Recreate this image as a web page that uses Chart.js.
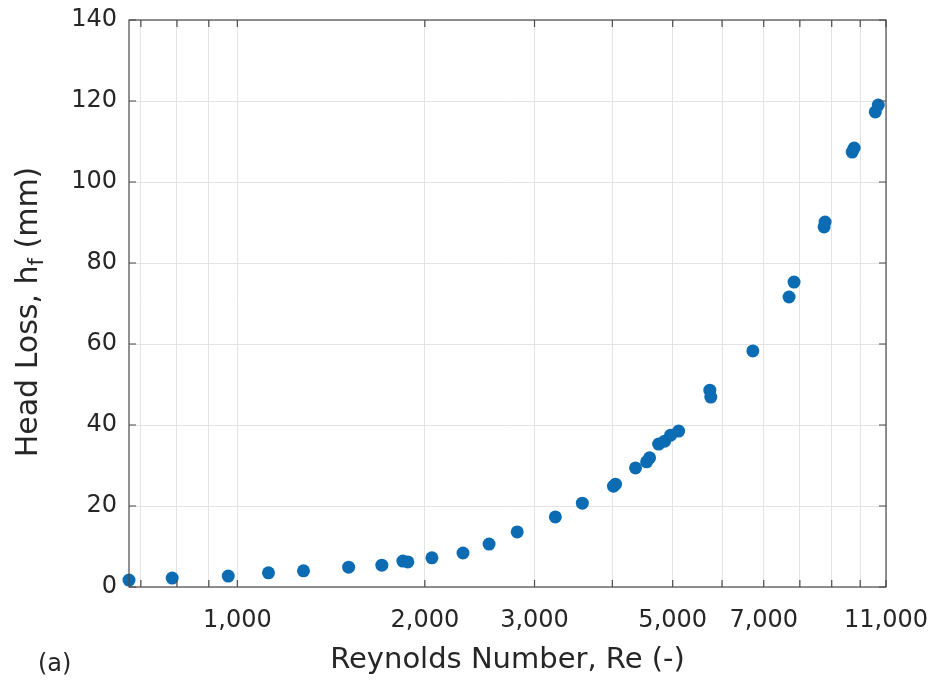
<!DOCTYPE html>
<html>
<head>
<meta charset="utf-8">
<script src="https://cdn.jsdelivr.net/npm/chart.js@4.4.1/dist/chart.umd.min.js"></script>
<style>
  html, body { margin: 0; padding: 0; background: #ffffff; }
  #wrap { width: 937px; height: 682px; position: relative; }
</style>
</head>
<body>
<div id="wrap"><canvas id="c" width="937" height="682"></canvas></div>
<script>
// ---- data ----
const reynolds = [670, 786, 967, 1122, 1277, 1509, 1706, 1844, 1878, 2053, 2303, 2536, 2814, 3240, 3580,
                  4017, 4047, 4358, 4540, 4590, 4746, 4853, 4962, 5111, 5735, 5756, 6724, 7687, 7830,
                  8750, 8782, 9708, 9779, 10573, 10690];
const headLoss = [1.7, 2.2, 2.7, 3.5, 4.0, 4.9, 5.4, 6.4, 6.2, 7.2, 8.4, 10.6, 13.6, 17.3, 20.7,
                  24.9, 25.4, 29.4, 30.9, 31.9, 35.3, 36.0, 37.5, 38.5, 48.6, 46.9, 58.3, 71.6, 75.3,
                  88.9, 90.1, 107.4, 108.4, 117.3, 119.0];
const xGridTicks = [700, 800, 900, 1000, 2000, 3000, 4000, 5000, 6000, 7000, 8000, 9000, 10000, 11000];
const xLabelTicks = [1000, 2000, 3000, 5000, 7000, 11000];
const yTicks = [0, 20, 40, 60, 80, 100, 120, 140];
const xRange = [670, 11000];
const yRange = [0, 140];
const xTitle = 'Reynolds Number, Re (-)';
const yTitleParts = ['Head Loss, h', 'f', ' (mm)'];
const panelLabel = '(a)';

const points = reynolds.map((r, i) => ({ x: r, y: headLoss[i] }));
const TEXT = '#262626';
const FONT = '"DejaVu Sans", sans-serif';

function zeroPad(scale) {
  scale.paddingTop = 0; scale.paddingBottom = 0;
  scale.paddingLeft = 0; scale.paddingRight = 0;
}

const framePlugin = {
  id: 'frame',
  afterDraw(chart) {
    const { ctx, chartArea: a, scales } = chart;
    ctx.save();
    // box
    ctx.strokeStyle = '#4a4a4a';
    ctx.lineWidth = 1.2;
    ctx.strokeRect(a.left, a.top, a.right - a.left, a.bottom - a.top);
    // inward ticks
    ctx.beginPath();
    const tl = 7;
    scales.x.ticks.forEach(t => {
      const px = scales.x.getPixelForValue(t.value);
      ctx.moveTo(px, a.bottom); ctx.lineTo(px, a.bottom - tl);
      ctx.moveTo(px, a.top); ctx.lineTo(px, a.top + tl);
    });
    scales.y.ticks.forEach(t => {
      const py = scales.y.getPixelForValue(t.value);
      ctx.moveTo(a.left, py); ctx.lineTo(a.left + tl, py);
      ctx.moveTo(a.right, py); ctx.lineTo(a.right - tl, py);
    });
    ctx.stroke();

    ctx.fillStyle = TEXT;
    // x title
    ctx.font = '29px ' + FONT;
    ctx.textAlign = 'center';
    ctx.textBaseline = 'alphabetic';
    ctx.fillText(xTitle, (a.left + a.right) / 2, 668);

    // y title with subscript
    ctx.translate(37, 312);
    ctx.rotate(-Math.PI / 2);
    ctx.textAlign = 'left';
    const big = '30px ' + FONT, small = '21px ' + FONT;
    ctx.font = big; const w0 = ctx.measureText(yTitleParts[0]).width;
    ctx.font = small; const w1 = ctx.measureText(yTitleParts[1]).width;
    ctx.font = big; const w2 = ctx.measureText(yTitleParts[2]).width;
    let x0 = -(w0 + w1 + w2) / 2;
    ctx.font = big; ctx.fillText(yTitleParts[0], x0, 0);
    ctx.font = small; ctx.fillText(yTitleParts[1], x0 + w0, 6);
    ctx.font = big; ctx.fillText(yTitleParts[2], x0 + w0 + w1, 0);
    ctx.restore();

    ctx.save();
    ctx.fillStyle = TEXT;
    ctx.font = '24px ' + FONT;
    ctx.textAlign = 'left';
    ctx.fillText(panelLabel, 38, 671);
    ctx.restore();
  }
};

new Chart(document.getElementById('c'), {
  type: 'scatter',
  data: {
    datasets: [{
      data: points,
      backgroundColor: '#0b6cb3',
      borderColor: '#0b6cb3',
      pointRadius: 6.5,
      pointHoverRadius: 6.5,
      borderWidth: 0,
      clip: false
    }]
  },
  options: {
    responsive: false,
    animation: false,
    devicePixelRatio: 1,
    layout: { autoPadding: false, padding: { top: 20, right: 51, left: 0, bottom: 0 } },
    plugins: { legend: { display: false }, tooltip: { enabled: false } },
    scales: {
      x: {
        type: 'logarithmic',
        min: xRange[0], max: xRange[1],
        afterBuildTicks(scale) { scale.ticks = xGridTicks.map(v => ({ value: v })); },
        afterFit(scale) { scale.height = 95; zeroPad(scale); },
        grid: { color: '#e3e3e3', lineWidth: 1, drawTicks: false },
        border: { display: false },
        ticks: {
          autoSkip: false, maxRotation: 0, minRotation: 0, padding: 19,
          color: TEXT, font: { family: FONT, size: 24 },
          callback(v) { return xLabelTicks.includes(v) ? v.toLocaleString('en-US') : ''; }
        }
      },
      y: {
        min: yRange[0], max: yRange[1],
        afterBuildTicks(scale) { scale.ticks = yTicks.map(v => ({ value: v })); },
        afterFit(scale) { scale.width = 129; zeroPad(scale); },
        grid: { color: '#e3e3e3', lineWidth: 1, drawTicks: false },
        border: { display: false },
        ticks: { padding: 12, color: TEXT, font: { family: FONT, size: 24 } }
      }
    }
  },
  plugins: [framePlugin]
});
</script>
</body>
</html>
